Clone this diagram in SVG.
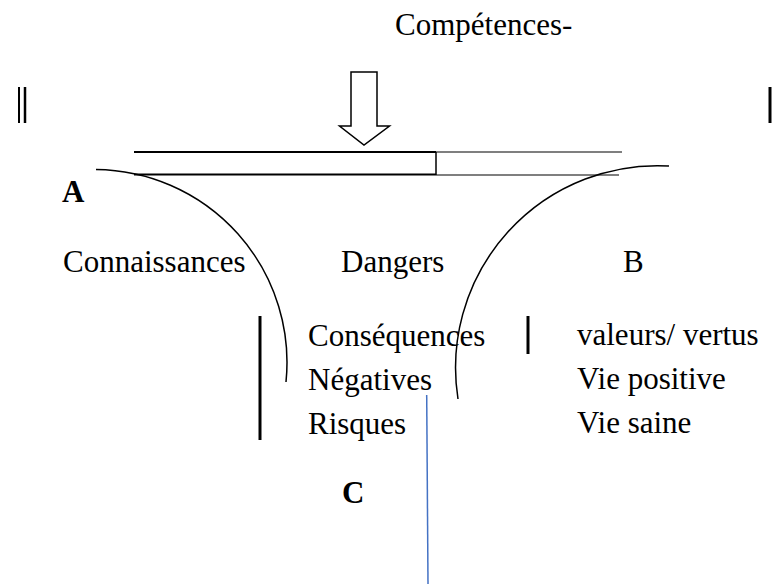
<svg xmlns="http://www.w3.org/2000/svg" width="772" height="584" viewBox="0 0 772 584">
<style>
text{font-family:"Liberation Serif","Times New Roman",serif;font-size:31px;fill:#000}
.b{font-weight:bold}
.ln{stroke:#000;fill:none}
</style>
<rect width="772" height="584" fill="#fff"/>
<g id="title"><text x="395" y="35">Compétences-</text></g>
<g id="bars" class="ln">
<line x1="19" y1="87" x2="19" y2="123" stroke-width="2"/>
<line x1="25" y1="87" x2="25" y2="123" stroke-width="2.5"/>
<line x1="770" y1="87" x2="770" y2="123" stroke-width="3"/>
<line x1="260" y1="316" x2="260" y2="440" stroke-width="3"/>
<line x1="528" y1="316" x2="528" y2="354" stroke-width="3"/>
</g>
<g id="arrow"><polygon points="351,72 377,72 377,126 389.5,126 364,145 339.5,126 351,126" fill="#fff" stroke="#000" stroke-width="1.5"/></g>
<g id="funnel" class="ln">
<line x1="134" y1="152" x2="436" y2="152" stroke-width="2"/>
<line x1="436" y1="152" x2="622" y2="152" stroke-width="1.2"/>
<line x1="134" y1="174.5" x2="436" y2="174.5" stroke-width="2"/>
<line x1="436" y1="175" x2="619" y2="175" stroke-width="1.2"/>
<line x1="436" y1="152" x2="436" y2="175" stroke-width="1.5"/>
<path d="M96,169.5 A193,193 0 0 1 286,382" stroke-width="1.5"/>
<path d="M669,166 A202,202 0 0 0 458,399" stroke-width="1.5"/>
</g>
<g id="nodeA"><text class="b" x="62" y="202">A</text></g>
<g id="nodeConnaissances"><text x="63" y="272">Connaissances</text></g>
<g id="nodeDangers"><text x="341" y="272">Dangers</text></g>
<g id="nodeB"><text x="623" y="272">B</text></g>
<g id="nodeNeg">
<text x="308" y="346">Conséquences</text>
<text x="308" y="390">Négatives</text>
<text x="308" y="434">Risques</text>
</g>
<g id="nodePos">
<text x="577" y="345">valeurs/ vertus</text>
<text x="577" y="389">Vie positive</text>
<text x="577" y="433">Vie saine</text>
</g>
<g id="nodeC"><text class="b" x="342" y="503">C</text></g>
<g id="connectors"><line x1="426.7" y1="395" x2="428" y2="584" stroke="#4472C4" stroke-width="1.5"/></g>
</svg>
